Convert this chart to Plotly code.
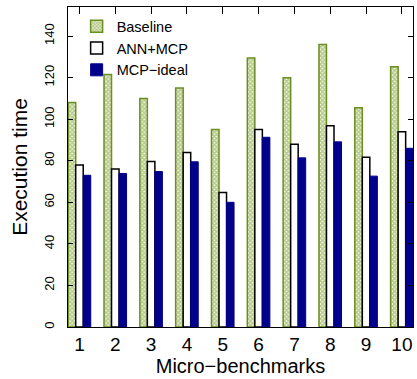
import plotly.graph_objects as go

categories = [1, 2, 3, 4, 5, 6, 7, 8, 9, 10]
tick_labels = ["1", "2", "3", "4", "5", "6", "7", "8", "9", "10"]
baseline = [108, 121.5, 110, 115, 95, 129.5, 120, 136, 105.5, 125.3]
ann_mcp = [78, 76, 79.7, 84, 64.7, 95, 88, 96.8, 81.7, 94]
mcp_ideal = [73, 73.9, 74.8, 79.5, 60, 91.3, 81.4, 89.1, 72.6, 86]
y_ticks = [0, 20, 40, 60, 80, 100, 120, 140]

FONT = "Liberation Sans, Arial, sans-serif"

fig = go.Figure()
fig.add_trace(go.Bar(
    x=categories, y=baseline, name="Baseline",
    marker=dict(color="white",
                line=dict(color="#6b8e23", width=1.5),
                pattern=dict(shape="x", size=3, solidity=0.75,
                             fgcolor="#7a9c30", bgcolor="#f4f8e8")),
))
fig.add_trace(go.Bar(
    x=categories, y=ann_mcp, name="ANN+MCP",
    marker=dict(color="white", line=dict(color="black", width=1.5)),
))
fig.add_trace(go.Bar(
    x=categories, y=mcp_ideal, name="MCP\u2212ideal",
    marker=dict(color="#00008b", line=dict(color="#00008b", width=1)),
))

fig.update_layout(
    width=417, height=379,
    margin=dict(l=68, r=4, t=7, b=52),
    paper_bgcolor="white", plot_bgcolor="white",
    barmode="group", bargap=0.37, bargroupgap=0,
    font=dict(family=FONT, color="black"),
    showlegend=True,
    legend=dict(x=0.025, y=0.99, xanchor="left", yanchor="top",
                bgcolor="rgba(0,0,0,0)", font=dict(size=14.5, family=FONT),
                tracegroupgap=0),
    xaxis=dict(
        range=[0.68, 10.31], tickvals=categories, ticktext=tick_labels,
        ticks="", showline=True, linecolor="black", linewidth=1, mirror=True,
        showgrid=False, zeroline=False,
        tickfont=dict(size=19, family=FONT),
        title=dict(text="Micro\u2212benchmarks", font=dict(size=20, family=FONT), standoff=2),
    ),
    xaxis2=dict(
        range=[0.68, 10.31], tickvals=categories, overlaying="x", side="top",
        ticks="inside", ticklen=7, tickcolor="black", showticklabels=False,
        showgrid=False, zeroline=False, showline=False,
    ),
    yaxis=dict(
        range=[0, 154], tickvals=y_ticks, ticks="inside", ticklen=5,
        tickcolor="black", tickangle=-90, ticklabelstandoff=8,
        showline=True, linecolor="black", linewidth=1, mirror="ticks",
        showgrid=False, zeroline=False,
        tickfont=dict(size=13, family=FONT),
        title=dict(text="Execution time", font=dict(size=21, family=FONT), standoff=8),
    ),
)
fig.add_trace(go.Scatter(x=[1], y=[0], xaxis="x2", mode="markers",
                         marker=dict(opacity=0), showlegend=False, hoverinfo="skip"))

fig.write_html("out.html", config={"displayModeBar": False},
               post_script="document.body.style.margin='0';document.body.style.overflow='hidden';")
